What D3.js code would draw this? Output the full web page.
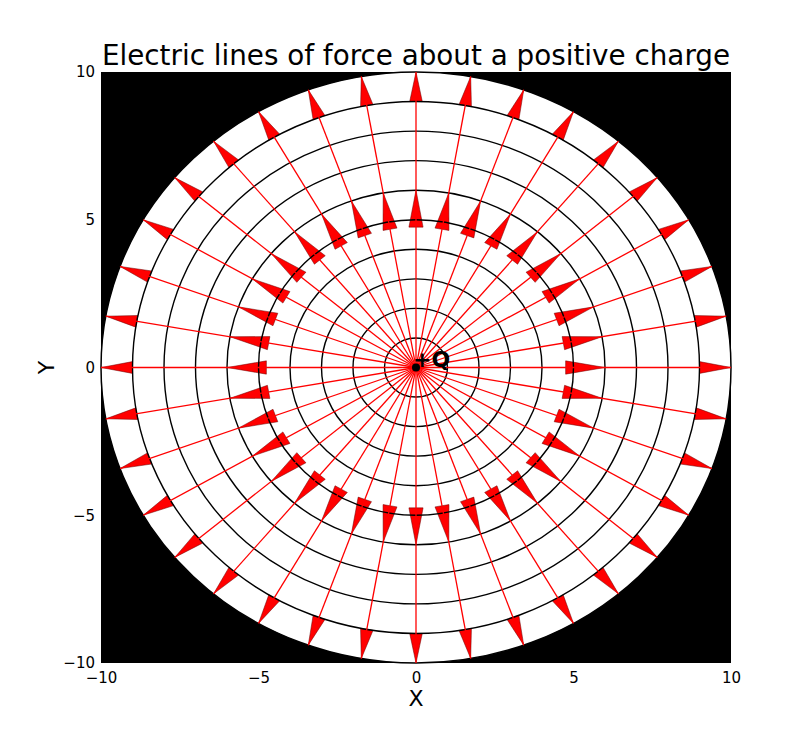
<!DOCTYPE html>
<html>
<head>
<meta charset="utf-8">
<script src="https://cdn.jsdelivr.net/npm/d3@7"></script>
<style>
  body { margin: 0; background: #fff; }
  text { font-family: "DejaVu Sans", sans-serif; }
</style>
</head>
<body>
<div id="chart"></div>
<script>
// field line directions, degrees
const lineAngles = [0, 10, 20, 30, 40, 50, 60, 70, 80, 90, 100, 110, 120, 130, 140, 150, 160, 170,
    180, 190, 200, 210, 220, 230, 240, 250, 260, 270, 280, 290, 300, 310, 320, 330, 340, 350];
// equipotential circles
const ringRadii = [1, 2, 3, 4, 5, 6, 7, 8, 9];
const outerRadius = 10;
// arrow heads along each line: where the head starts and where its tip is
const arrowBase = [4.75, 9.0];
const arrowTip = [6.0, 10.0];
const arrowWidth = [0.45, 0.4];
const tickValues = [-10, -5, 0, 5, 10];

var margin = {top: 72, right: 81, bottom: 75, left: 101},
    width = 812 - margin.left - margin.right,
    height = 738 - margin.top - margin.bottom;

var svg = d3.select("#chart")
  .append("svg")
  .attr("width", 812)
  .attr("height", 738)
  .append("g")
  .attr("transform", "translate(" + margin.left + "," + margin.top + ")");

var x = d3.scaleLinear().domain([-10, 10]).range([0, width]);
var y = d3.scaleLinear().domain([-10, 10]).range([height, 0]);

// black background of the axes
svg.append("rect")
  .attr("width", width)
  .attr("height", height)
  .style("fill", "black");

// white disc
svg.append("ellipse")
  .attr("cx", x(0)).attr("cy", y(0))
  .attr("rx", x(outerRadius) - x(0))
  .attr("ry", y(0) - y(outerRadius))
  .style("fill", "white")
  .style("stroke", "black")
  .style("stroke-width", 1.5);

// arrow heads
var heads = [];
lineAngles.forEach(function(a) {
  var t = a * Math.PI / 180;
  arrowBase.forEach(function(b, i) {
    heads.push({t: t, base: b, tip: arrowTip[i], w: arrowWidth[i]});
  });
});

function headPoints(d) {
  var c = Math.cos(d.t), s = Math.sin(d.t), h = d.w / 2;
  var pts = [
    [d.base * c - h * s, d.base * s + h * c],
    [d.tip * c, d.tip * s],
    [d.base * c + h * s, d.base * s - h * c]
  ];
  return pts.map(function(p) { return x(p[0]) + "," + y(p[1]); }).join(" ");
}

svg.selectAll(".head")
  .data(heads)
  .enter()
  .append("polygon")
  .attr("class", "head")
  .attr("points", headPoints)
  .style("fill", "red")
  .style("stroke", "#600")
  .style("stroke-width", 0.5);

// circles
svg.selectAll(".ring")
  .data(ringRadii)
  .enter()
  .append("ellipse")
  .attr("cx", x(0)).attr("cy", y(0))
  .attr("rx", function(r) { return x(r) - x(0); })
  .attr("ry", function(r) { return y(0) - y(r); })
  .style("fill", "none")
  .style("stroke", "black")
  .style("stroke-width", 1.4);

// field lines
svg.selectAll(".fline")
  .data(lineAngles)
  .enter()
  .append("line")
  .attr("x1", x(0)).attr("y1", y(0))
  .attr("x2", function(a) { return x(outerRadius * Math.cos(a * Math.PI / 180)); })
  .attr("y2", function(a) { return y(outerRadius * Math.sin(a * Math.PI / 180)); })
  .style("stroke", "red")
  .style("stroke-width", 1.3);

// the charge
svg.append("circle")
  .attr("cx", x(0)).attr("cy", y(0))
  .attr("r", 4)
  .style("fill", "black");

svg.append("text")
  .attr("x", x(0) - 3)
  .attr("y", y(0) - 1)
  .style("font-size", "22px")
  .style("font-weight", "bold")
  .style("fill", "black")
  .text("+Q");

// axes
var fmt = function(d) { return d < 0 ? "\u2212" + Math.abs(d) : String(d); };

var xAxis = svg.append("g")
  .attr("transform", "translate(0," + height + ")")
  .call(d3.axisBottom(x).tickValues(tickValues).tickSize(0).tickPadding(9).tickFormat(fmt));
var yAxis = svg.append("g")
  .call(d3.axisLeft(y).tickValues(tickValues).tickSize(0).tickPadding(6).tickFormat(fmt));

[xAxis, yAxis].forEach(function(g) {
  g.attr("font-size", 15).attr("font-family", "DejaVu Sans, sans-serif");
  g.select(".domain").remove();
  g.selectAll("text")
    .style("font-size", "15px")
    .style("fill", "black");
});

svg.append("text")
  .attr("x", x(0))
  .attr("y", -7)
  .attr("text-anchor", "middle")
  .style("font-size", "27.8px")
  .style("fill", "black")
  .text("Electric lines of force about a positive charge");

svg.append("text")
  .attr("x", x(0))
  .attr("y", height + 43)
  .attr("text-anchor", "middle")
  .style("font-size", "22px")
  .text("X");

svg.append("text")
  .attr("transform", "translate(-47," + y(0) + ") rotate(-90)")
  .attr("text-anchor", "middle")
  .style("font-size", "22px")
  .text("Y");
</script>
</body>
</html>
